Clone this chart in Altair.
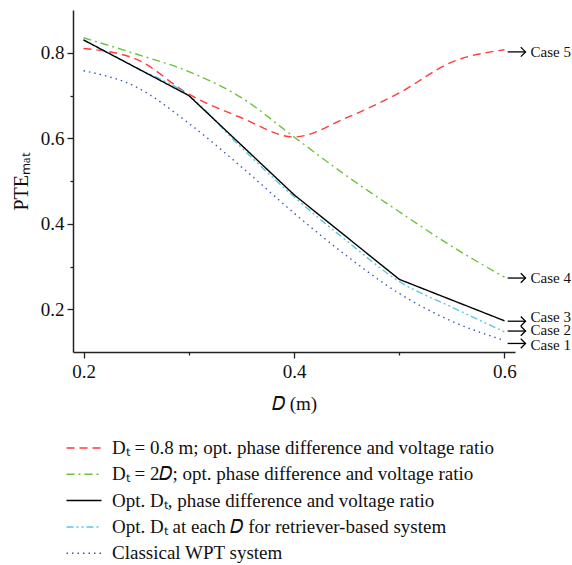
import altair as alt
import pandas as pd

# ---- data ----
d_fine = [0.2, 0.25, 0.3, 0.35, 0.4, 0.45, 0.5, 0.55, 0.6]
d_coarse = [0.2, 0.3, 0.4, 0.5, 0.6]

series_names = [
    "Dₜ = 0.8 m; opt. phase difference and voltage ratio",
    "Dₜ = 2𝐷; opt. phase difference and voltage ratio",
    "Opt. Dₜ, phase difference and voltage ratio",
    "Opt. Dₜ at each 𝐷 for retriever-based system",
    "Classical WPT system",
]
case5_red = [0.81, 0.785, 0.703, 0.648, 0.603, 0.648, 0.706, 0.778, 0.807]
case4_green = [0.835, 0.797, 0.756, 0.695, 0.603, 0.512, 0.428, 0.347, 0.275]
case3_black = [0.83, 0.70, 0.468, 0.27, 0.173]
case2_cyan = [0.83, 0.765, 0.70, 0.578, 0.463, 0.36, 0.265, 0.205, 0.147]
case1_blue = [0.758, 0.72, 0.635, 0.533, 0.425, 0.325, 0.237, 0.172, 0.127]

case_labels = ["Case 5", "Case 4", "Case 3", "Case 2", "Case 1"]
case_arrow_y = [0.802, 0.273, 0.172, 0.149, 0.120]
case_label_y = [0.802, 0.273, 0.183, 0.151, 0.116]

colors = ["#ff3b3b", "#6cc13c", "#000000", "#5cc8e6", "#3a56c8"]
dashes = [[8, 5], [8, 4, 2, 4], [1, 0], [7, 3, 2, 3, 2, 3], [1.5, 4]]

arrow_x0 = 0.603
arrow_x1 = 0.620

# ---- tables ----
rows = []
for name, vals in zip([series_names[0], series_names[1], series_names[3], series_names[4]],
                      [case5_red, case4_green, case2_cyan, case1_blue]):
    for d, v in zip(d_fine, vals):
        rows.append({"D": d, "PTE": v, "series": name})
smooth_df = pd.DataFrame(rows)
black_df = pd.DataFrame({"D": d_coarse, "PTE": case3_black, "series": series_names[2]})
case_df = pd.DataFrame({"label": case_labels, "ya": case_arrow_y, "yl": case_label_y,
                        "x0": [arrow_x0] * 5, "x1": [arrow_x1] * 5})

FONT = "Liberation Serif"

xscale = alt.Scale(domain=[0.19, 0.61], nice=False, zero=False)
yscale = alt.Scale(domain=[0.1, 0.9], nice=False, zero=False)

major_test = "round(datum.value * 10) % 2 == 0"

xaxis = alt.Axis(
    values=[0.2, 0.3, 0.4, 0.5, 0.6],
    labelExpr=f"{major_test} ? format(datum.value, '.1f') : ''",
    tickSize={"condition": {"test": major_test, "value": 6}, "value": 3},
    grid=False, title="𝐷 (m)", titleFont=FONT, titleFontSize=19, titleFontWeight="normal",
    titlePadding=13, labelPadding=4,
)
yaxis = alt.Axis(
    values=[0.2, 0.3, 0.4, 0.5, 0.6, 0.7, 0.8],
    labelExpr=f"{major_test} ? format(datum.value, '.1f') : ''",
    tickSize={"condition": {"test": major_test, "value": 6}, "value": 3},
    grid=False, title="PTEₘₐₜ", titleFont=FONT, titleFontSize=20, titleFontWeight="normal",
    titlePadding=9, labelPadding=3,
)

legend_opts = dict(orient="none", legendX=1.5, legendY=428.5, title=None,
                   symbolType="M-3.5,0L3.5,0", symbolSize=100, symbolStrokeWidth=1.5,
                   labelFont=FONT, labelFontSize=19, labelColor="#111",
                   labelOffset=18.5, rowPadding=6.3, padding=0, labelLimit=600)
color = alt.Color("series:N", scale=alt.Scale(domain=series_names, range=colors),
                  legend=alt.Legend(**legend_opts))
dash = alt.StrokeDash("series:N", scale=alt.Scale(domain=series_names, range=dashes),
                      legend=alt.Legend(**legend_opts))

smooth = alt.Chart(smooth_df).mark_line(interpolate="monotone", strokeWidth=1.4).encode(
    x=alt.X("D:Q", scale=xscale, axis=xaxis),
    y=alt.Y("PTE:Q", scale=yscale, axis=yaxis),
    color=color, strokeDash=dash,
)
black = alt.Chart(black_df).mark_line(strokeWidth=1.4).encode(
    x=alt.X("D:Q", scale=xscale), y=alt.Y("PTE:Q", scale=yscale),
    color=color, strokeDash=dash,
)

shaft = alt.Chart(case_df).mark_rule(color="black", strokeWidth=1.3).encode(
    x="x0:Q", x2="x1:Q", y="ya:Q")
head = alt.Chart(case_df).mark_point(shape="M-1,-1L0,0L-1,1", filled=False, color="black",
                                     size=90, strokeWidth=1.3, opacity=1).encode(
    x="x1:Q", y="ya:Q")
labels = alt.Chart(case_df).mark_text(align="left", baseline="middle", dx=5, font=FONT,
                                      fontSize=15, color="#111").encode(
    x="x1:Q", y="yl:Q", text="label:N")

chart = alt.layer(smooth, black, shaft, head, labels).properties(
    width=442, height=342,
    padding={"left": 73, "top": 10, "right": 57, "bottom": 213},
    autosize=alt.AutoSizeParams(type="none"),
).configure_view(stroke=None).configure_axis(
    labelFont=FONT, labelFontSize=19, labelColor="#111",
    domainColor="#222", domainWidth=1.5, tickColor="#222", tickWidth=1.3,
    titleColor="#111",
)

chart.save("out.html", embed_options={"renderer": "svg", "actions": False})
